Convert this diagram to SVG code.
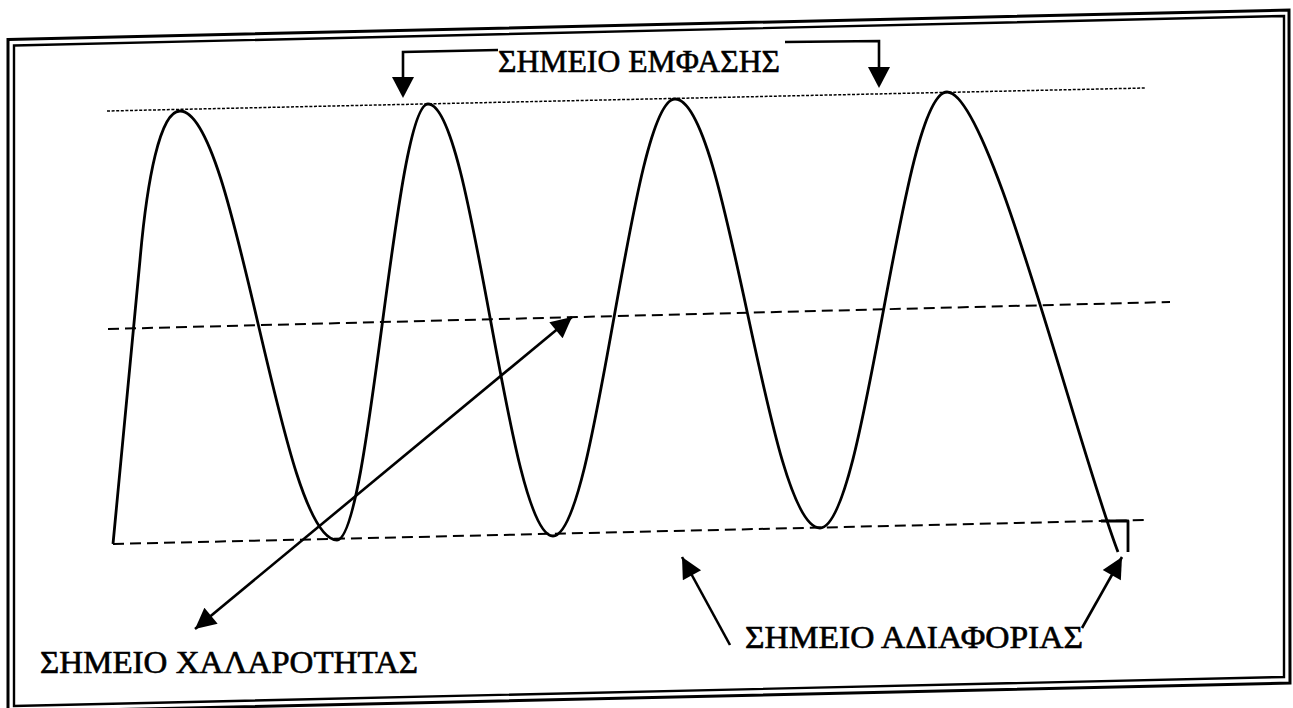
<svg xmlns="http://www.w3.org/2000/svg" width="1293" height="708" viewBox="0 0 1293 708">
  <defs>
    <style>
      .frame { fill: none; stroke: #000; }
      .label { font-family: 'Liberation Serif', 'DejaVu Serif', serif; font-size: 31px; fill: #000; stroke: #000; stroke-width: 0.6; }
      .wave { fill: none; stroke: #000; stroke-width: 2.8; stroke-linejoin: round; }
      .dotted { fill: none; stroke: #000; stroke-width: 1.5; stroke-dasharray: 3 1.6; }
      .dashed { fill: none; stroke: #000; stroke-width: 2; stroke-dasharray: 11 6; }
      .conn { fill: none; stroke: #000; stroke-width: 2.6; }
      .head { fill: #000; stroke: none; }
    </style>
    <marker id="arr" viewBox="0 0 10 10" refX="10" refY="5" markerWidth="9" markerHeight="8" markerUnits="strokeWidth" orient="auto-start-reverse">
      <path d="M0,0 L10,5 L0,10 Z" class="head"/>
    </marker>
  </defs>
  <rect width="1293" height="708" fill="#fff"/>

  <g id="frame">
    <path class="frame" stroke-width="3" d="M8,39.5 L1289,10 L1290,683 L8,712 Z"/>
    <path class="frame" stroke-width="2.4" d="M14,45.5 L1284,16 L1284,677 L14,706 Z"/>
  </g>

  <g id="guides">
    <path class="dotted" d="M107,111 L1145,88"/>
    <path class="dashed" d="M108,329 L1170,302"/>
    <path class="dashed" d="M113,544 L1145,520"/>
  </g>

  <g id="wave">
    <path class="wave" d="M113,544 L140,260 C147,180 160,111 180,111 C237,111 280,540 337,540 C370,540 395,104 428,104 C473.5,104 507.5,536 553,536 C597,536 631,99 675,99 C728,99 767,528 820,528 C866,528 901,92 947,92 C990,92 1075,440 1118,552"/>
    <path class="wave" stroke-width="2.2" d="M1101,521 L1128,521 L1128,552"/>
  </g>

  <g id="connectors">
    <path class="conn" d="M498,50 L403,52 L403,80"/>
    <path class="head" d="M392,77 L414,77 L403,98 Z"/>
    <path class="conn" d="M785,42 L879,41 L879,70"/>
    <path class="head" d="M868,67 L890,67 L879,88 Z"/>
    <path class="conn" d="M195,629 L572,317" marker-start="url(#arr)" marker-end="url(#arr)"/>
    <path class="conn" d="M730,645 L682,557" marker-end="url(#arr)"/>
    <path class="conn" d="M1082,628 L1122,557" marker-end="url(#arr)"/>
  </g>

  <g id="label-emfasis">
    <text class="label" x="498" y="72" font-family="Liberation Serif, serif" textLength="282" lengthAdjust="spacingAndGlyphs">ΣΗΜΕΙΟ ΕΜΦΑΣΗΣ</text>
  </g>
  <g id="label-chalarotitas">
    <text class="label" x="40" y="673" font-family="Liberation Serif, serif" textLength="378" lengthAdjust="spacingAndGlyphs">ΣΗΜΕΙΟ ΧΑΛΑΡΟΤΗΤΑΣ</text>
  </g>
  <g id="label-adiaforias">
    <text class="label" x="745" y="648" font-family="Liberation Serif, serif" textLength="338" lengthAdjust="spacingAndGlyphs">ΣΗΜΕΙΟ ΑΔΙΑΦΟΡΙΑΣ</text>
  </g>
</svg>
